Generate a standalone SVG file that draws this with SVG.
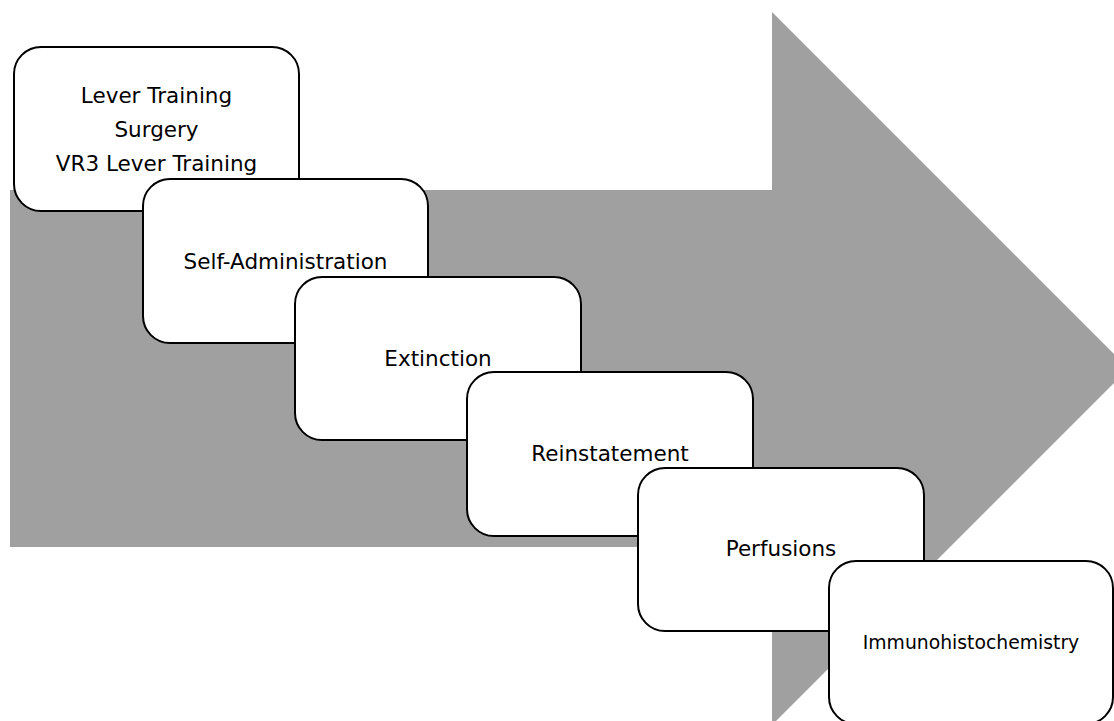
<svg xmlns="http://www.w3.org/2000/svg" width="1114" height="721" viewBox="0 0 1114 721">
<style>
.box{fill:#ffffff;stroke:#000000;stroke-width:2}
.t{font-family:"DejaVu Sans",Verdana,sans-serif;font-size:21.5px;fill:#000000;text-anchor:middle}
.s{font-size:18.8px}
</style>
<rect width="1114" height="721" fill="#ffffff"/>
<g id="arrow">
<polygon points="10,190 772,190 772,12 1128.5,368.5 772,725 772,547 10,547" fill="#a0a0a0"/>
</g>
<g id="connectors"></g>
<g id="n1">
<rect class="box" x="14" y="47" width="285" height="164" rx="27" ry="27"/>
<text class="t" x="156.5" y="103.3">Lever Training</text>
<text class="t" x="156.5" y="137">Surgery</text>
<text class="t" x="156.5" y="170.7">VR3 Lever Training</text>
</g>
<g id="n2">
<rect class="box" x="143" y="179" width="285" height="164" rx="27" ry="27"/>
<text class="t" x="285.5" y="268.5">Self-Administration</text>
</g>
<g id="n3">
<rect class="box" x="295" y="277" width="286" height="163" rx="27" ry="27"/>
<text class="t" x="438" y="366">Extinction</text>
</g>
<g id="n4">
<rect class="box" x="467" y="372" width="286" height="164" rx="27" ry="27"/>
<text class="t" x="610" y="461">Reinstatement</text>
</g>
<g id="n5">
<rect class="box" x="638" y="468" width="286" height="163" rx="27" ry="27"/>
<text class="t" x="781" y="556">Perfusions</text>
</g>
<g id="n6">
<rect class="box" x="829" y="561" width="284" height="163" rx="27" ry="27"/>
<text class="t s" x="971" y="649.3">Immunohistochemistry</text>
</g>
</svg>
